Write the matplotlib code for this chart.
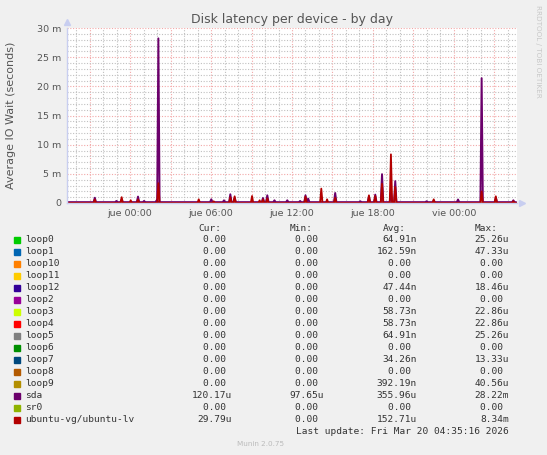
import matplotlib
matplotlib.use("Agg")
import matplotlib.pyplot as plt
import numpy as np

# time axis in hours relative to "jue 00:00"
t_start = -4.67
t_end = 28.58
tick_hours = [0, 6, 12, 18, 24]
tick_labels = ["jue 00:00", "jue 06:00", "jue 12:00", "jue 18:00", "vie 00:00"]

# spikes: (hour, value in ms)
sda_base = 0.15
sda_spikes = [(-2.61, 0.9), (-1.01, 0.35), (-0.62, 0.6), (0.59, 1.1), (1.04, 0.35),
              (1.97, 0.45), (2.1, 28.22), (6.02, 0.64), (6.96, 0.46), (7.43, 1.5),
              (7.75, 0.9), (9.85, 0.86), (10.17, 1.32), (10.7, 0.46), (11.65, 0.46),
              (12.6, 0.35), (13.0, 1.32), (13.2, 0.75), (15.2, 1.72), (17.06, 0.3),
              (17.7, 1.1), (18.17, 1.44), (18.67, 4.94), (19.33, 1.9), (19.65, 3.75),
              (21.97, 0.3), (22.5, 0.4), (24.3, 0.6), (26.05, 21.4), (27.1, 0.9),
              (28.4, 0.46)]
lv_base = 0.0
lv_spikes = [(-2.61, 0.6), (-0.62, 1.0), (0.05, 0.47), (0.59, 0.6), (2.1, 3.4),
             (5.09, 0.64), (6.2, 0.3), (7.43, 1.0), (7.75, 1.15), (9.04, 1.2),
             (9.6, 0.46), (9.85, 0.6), (10.17, 0.8), (13.0, 1.1), (14.17, 2.47),
             (14.6, 0.63), (15.2, 0.9), (17.7, 1.32), (18.17, 1.2), (18.67, 3.3),
             (19.33, 8.34), (19.65, 2.75), (22.5, 0.63), (26.05, 2.0), (27.1, 1.15),
             (28.4, 0.3)]

names = ["loop0", "loop1", "loop10", "loop11", "loop12", "loop2", "loop3", "loop4",
         "loop5", "loop6", "loop7", "loop8", "loop9", "sda", "sr0", "ubuntu-vg/ubuntu-lv"]
colors = ["#00CC00", "#0066B3", "#FF8000", "#FFCC00", "#330099", "#990099", "#CCFF00",
          "#FF0000", "#808080", "#008F00", "#00487D", "#B35A00", "#B38F00", "#6B006B",
          "#8FB300", "#B30000"]
cur = ["0.00 "] * 13 + ["120.17u", "0.00 ", "29.79u"]
mins = ["0.00 "] * 13 + ["97.65u", "0.00 ", "0.00 "]
avgs = ["64.91n", "162.59n", "0.00 ", "0.00 ", "47.44n", "0.00 ", "58.73n", "58.73n",
        "64.91n", "0.00 ", "34.26n", "0.00 ", "392.19n", "355.96u", "0.00 ", "152.71u"]
maxs = ["25.26u", "47.33u", "0.00 ", "0.00 ", "18.46u", "0.00 ", "22.86u", "22.86u",
        "25.26u", "0.00 ", "13.33u", "0.00 ", "40.56u", "28.22m", "0.00 ", "8.34m"]


def spike_line(base, spikes, half=0.09):
    xs, ys = [t_start], [base]
    for h, v in spikes:
        xs += [h - half, h, h + half]
        ys += [base, v, base]
    xs.append(t_end)
    ys.append(base)
    return xs, ys


W, H = 547, 455
fig = plt.figure(figsize=(W / 100, H / 100), dpi=100, facecolor="#F0F0F0")
ax = fig.add_axes([67 / W, 1 - 203 / H, 450 / W, 175 / H])
ax.set_facecolor("white")

# grid
for h in np.arange(-4, 29, 1):
    c = "#F2A8A8" if h % 3 == 0 else "#C0C0C0"
    ax.axvline(h, color=c, lw=0.8, ls=(0, (1, 1.5)), zorder=0)
for v in range(1, 31):
    c = "#F2A8A8" if v % 5 == 0 else "#C0C0C0"
    ax.axhline(v, color=c, lw=0.8, ls=(0, (1, 1.5)), zorder=0)

# flat loop devices (all ~0 at this scale)
for i in range(13):
    ax.plot([t_start, t_end], [0, 0], color=colors[i], lw=1.3)
lx, ly = spike_line(lv_base, lv_spikes)
sx, sy = spike_line(sda_base, sda_spikes)
ax.plot(sx, sy, color=colors[13], lw=1.4)
ax.plot(lx, ly, color=colors[15], lw=1.3)

ax.set_xlim(t_start, t_end + 0.09)
ax.set_ylim(0, 30)
ax.set_xticks(tick_hours)
ax.set_xticklabels(tick_labels)
ax.set_yticks(range(0, 31, 5))
ax.set_yticklabels(["0"] + ["%d m" % v for v in range(5, 31, 5)])
ax.tick_params(length=0, labelsize=6.8, colors="#555555", pad=4)
for s in ["top", "right"]:
    ax.spines[s].set_visible(False)
for s in ["left", "bottom"]:
    ax.spines[s].set_color("#C8CEF0")
    ax.spines[s].set_linewidth(1)
ax.plot([0], [1.035], marker="^", ms=5, color="#C8CEF0", transform=ax.transAxes, clip_on=False)
ax.plot([1.01], [0], marker=">", ms=5, color="#C8CEF0", transform=ax.transAxes, clip_on=False)
fig.text(11 / W, 1 - 115 / H, "Average IO Wait (seconds)", rotation=90, ha="center",
         va="center", fontsize=8, color="#555555")

fig.text(292 / W, 1 - 19 / H, "Disk latency per device - by day", ha="center", va="center",
         fontsize=9, color="#555555")
fig.text(538 / W, 1 - 5 / H, "RRDTOOL / TOBI OETIKER", rotation=270, ha="center", va="top",
         fontsize=5.2, color="#C8C8C8")

# legend table
mono = "DejaVu Sans Mono"
fs = 6.8
hy = 228.3
for lab, x in [("Cur:", 198), ("Min:", 290), ("Avg:", 383), ("Max:", 475)]:
    fig.text(x / W, 1 - hy / H, lab, family=mono, fontsize=fs, color="#333333", va="center")
for i, name in enumerate(names):
    y = 239.5 + 12 * i
    fig.patches.append(plt.Rectangle((13.5 / W, 1 - (y + 3) / H), 6 / W, 6 / H,
                                     transform=fig.transFigure, color=colors[i]))
    fig.text(25 / W, 1 - y / H, name, family=mono, fontsize=fs, color="#333333", va="center")
    for col, x in [(cur, 231.7), (mins, 324), (avgs, 416.7), (maxs, 509)]:
        fig.text(x / W, 1 - y / H, col[i], family=mono, fontsize=fs, color="#333333",
                 va="center", ha="right")
fig.text(509 / W, 1 - 431.7 / H, "Last update: Fri Mar 20 04:35:16 2026", family=mono,
         fontsize=fs, color="#333333", va="center", ha="right")
fig.text(260.7 / W, 1 - 444.3 / H, "Munin 2.0.75", fontsize=5.2, color="#BBBBBB",
         ha="center", va="center")

fig.savefig("out.png", dpi=100, facecolor=fig.get_facecolor())
